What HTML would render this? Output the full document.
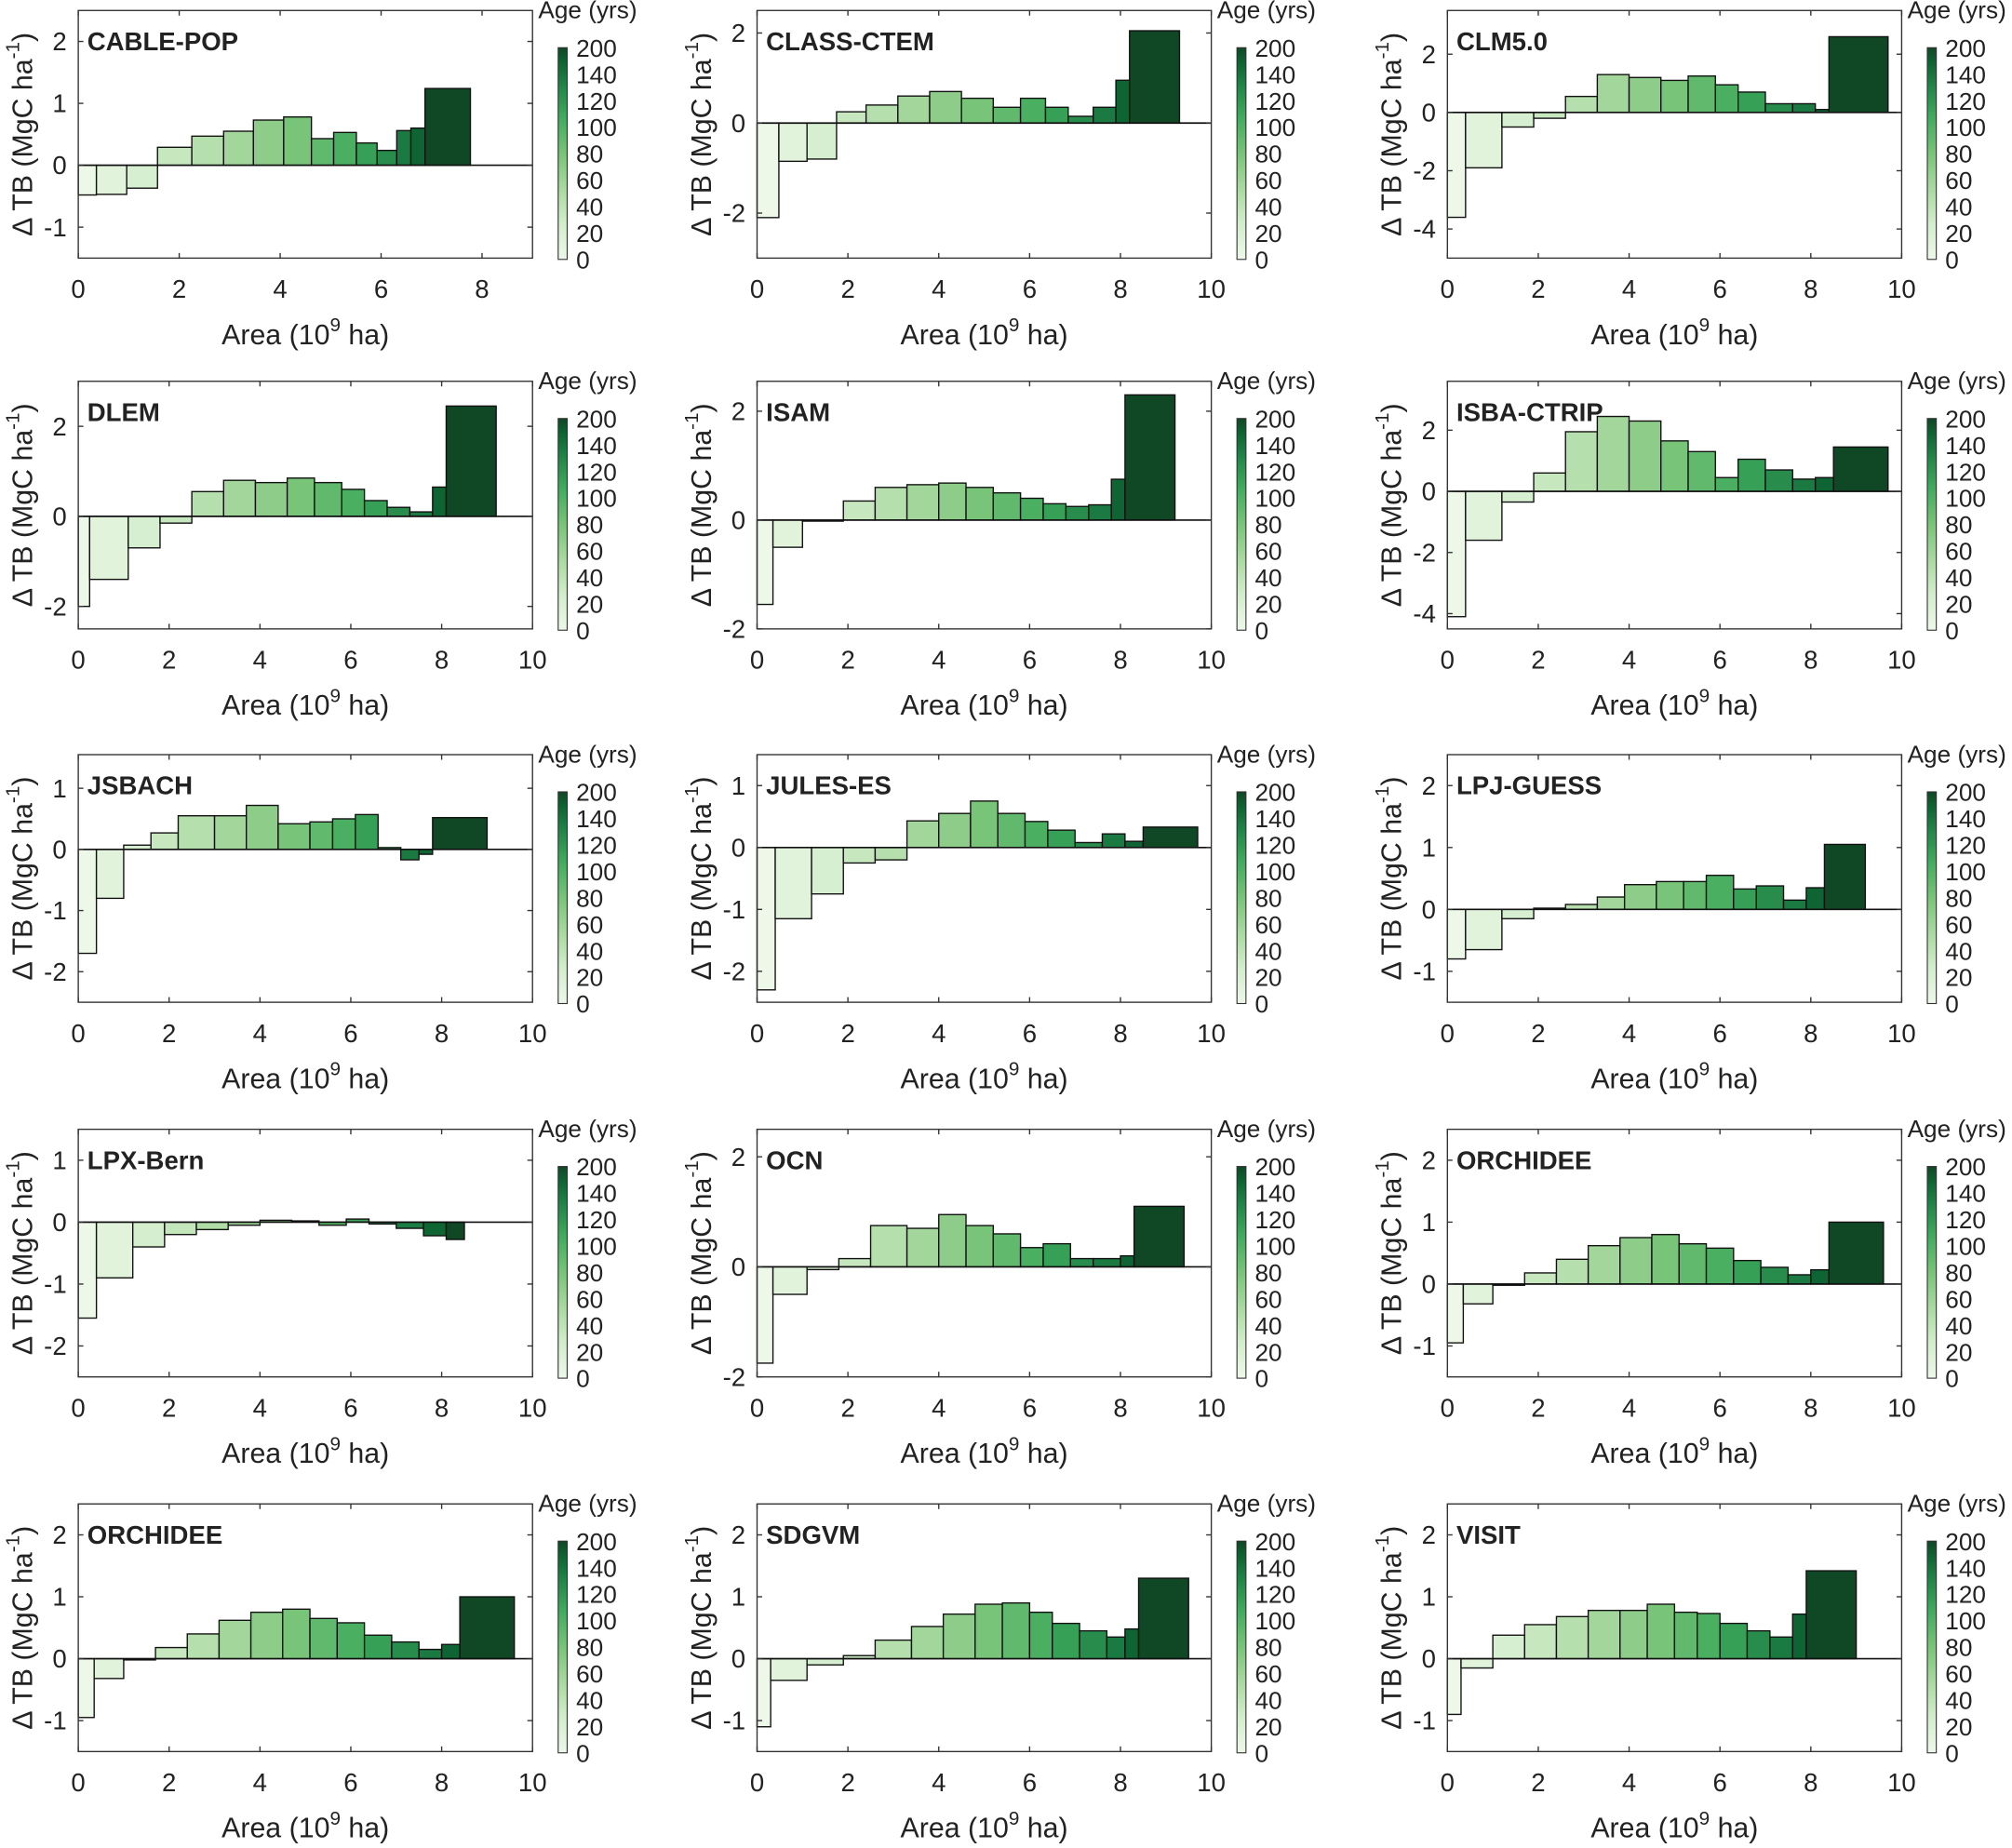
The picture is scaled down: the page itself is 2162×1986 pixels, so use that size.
<!DOCTYPE html>
<html><head><meta charset="utf-8"><style>
html,body{margin:0;padding:0;background:#fff}
svg{display:block}
text{font-family:"Liberation Sans",sans-serif;fill:#222}
</style></head><body>
<svg id="s" width="2162" height="1986" viewBox="0 0 1568 1440" xmlns="http://www.w3.org/2000/svg"></svg>
<script>
const P=[
["CABLE-POP",[-1.5,2.5],[-1,0,1,2],9,[[0,.36,-.48],[.36,.96,-.47],[.96,1.57,-.37],[1.57,2.25,.29],[2.25,2.88,.47],[2.88,3.47,.55],[3.47,4.07,.73],[4.07,4.62,.78],[4.62,5.06,.43],[5.06,5.51,.53],[5.51,5.92,.36],[5.92,6.31,.24],[6.31,6.59,.56],[6.59,6.87,.6],[6.87,7.77,1.24]]],
["CLASS-CTEM",[-3,2.5],[-2,0,2],10,[[0,.48,-2.1],[.48,1.1,-.85],[1.1,1.75,-.8],[1.75,2.4,.25],[2.4,3.1,.4],[3.1,3.8,.6],[3.8,4.5,.7],[4.5,5.2,.55],[5.2,5.8,.35],[5.8,6.35,.55],[6.35,6.85,.35],[6.85,7.4,.15],[7.4,7.9,.35],[7.9,8.2,.95],[8.2,9.3,2.05]]],
["CLM5.0",[-5,3.5],[-4,-2,0,2],10,[[0,.4,-3.6],[.4,1.2,-1.9],[1.2,1.9,-.5],[1.9,2.6,-.2],[2.6,3.3,.55],[3.3,4,1.3],[4,4.7,1.2],[4.7,5.3,1.1],[5.3,5.9,1.25],[5.9,6.4,.95],[6.4,7,.7],[7,7.6,.3],[7.6,8.1,.3],[8.1,8.4,.1],[8.4,9.7,2.6]]],
["DLEM",[-2.5,3],[-2,0,2],10,[[0,.25,-2],[.25,1.1,-1.4],[1.1,1.8,-.7],[1.8,2.5,-.15],[2.5,3.2,.55],[3.2,3.9,.8],[3.9,4.6,.75],[4.6,5.2,.85],[5.2,5.8,.75],[5.8,6.3,.6],[6.3,6.8,.35],[6.8,7.3,.2],[7.3,7.8,.1],[7.8,8.1,.65],[8.1,9.2,2.45]]],
["ISAM",[-2,2.55],[-2,0,2],10,[[0,.35,-1.55],[.35,1,-.5],[1,1.9,-.02],[1.9,2.6,.35],[2.6,3.3,.6],[3.3,4,.65],[4,4.6,.68],[4.6,5.2,.6],[5.2,5.8,.5],[5.8,6.3,.4],[6.3,6.8,.3],[6.8,7.3,.25],[7.3,7.8,.28],[7.8,8.1,.75],[8.1,9.2,2.3]]],
["ISBA-CTRIP",[-4.5,3.6],[-4,-2,0,2],10,[[0,.4,-4.1],[.4,1.2,-1.6],[1.2,1.9,-.35],[1.9,2.6,.6],[2.6,3.3,1.95],[3.3,4,2.45],[4,4.7,2.3],[4.7,5.3,1.65],[5.3,5.9,1.3],[5.9,6.4,.45],[6.4,7,1.05],[7,7.6,.7],[7.6,8.1,.4],[8.1,8.5,.45],[8.5,9.7,1.45]]],
["JSBACH",[-2.5,1.55],[-2,-1,0,1],10,[[0,.4,-1.7],[.4,1,-.8],[1,1.6,.07],[1.6,2.2,.27],[2.2,3,.55],[3,3.7,.55],[3.7,4.4,.72],[4.4,5.1,.42],[5.1,5.6,.45],[5.6,6.1,.5],[6.1,6.6,.57],[6.6,7.1,.03],[7.1,7.5,-.17],[7.5,7.8,-.08],[7.8,9,.52]]],
["JULES-ES",[-2.5,1.5],[-2,-1,0,1],10,[[0,.4,-2.3],[.4,1.2,-1.15],[1.2,1.9,-.75],[1.9,2.6,-.25],[2.6,3.3,-.2],[3.3,4,.43],[4,4.7,.55],[4.7,5.3,.75],[5.3,5.9,.55],[5.9,6.4,.42],[6.4,7,.28],[7,7.6,.08],[7.6,8.1,.22],[8.1,8.5,.1],[8.5,9.7,.33]]],
["LPJ-GUESS",[-1.5,2.5],[-1,0,1,2],10,[[0,.4,-.8],[.4,1.2,-.65],[1.2,1.9,-.15],[1.9,2.6,.02],[2.6,3.3,.08],[3.3,3.9,.2],[3.9,4.6,.4],[4.6,5.2,.45],[5.2,5.7,.45],[5.7,6.3,.55],[6.3,6.8,.33],[6.8,7.4,.38],[7.4,7.9,.15],[7.9,8.3,.35],[8.3,9.2,1.05]]],
["LPX-Bern",[-2.5,1.5],[-2,-1,0,1],10,[[0,.4,-1.55],[.4,1.2,-.9],[1.2,1.9,-.4],[1.9,2.6,-.2],[2.6,3.3,-.12],[3.3,4,-.05],[4,4.7,.03],[4.7,5.3,.02],[5.3,5.9,-.05],[5.9,6.4,.05],[6.4,7,-.03],[7,7.6,-.1],[7.6,8.1,-.22],[8.1,8.5,-.28]]],
["OCN",[-2,2.5],[-2,0,2],10,[[0,.35,-1.75],[.35,1.1,-.5],[1.1,1.8,-.05],[1.8,2.5,.15],[2.5,3.3,.75],[3.3,4,.7],[4,4.6,.95],[4.6,5.2,.75],[5.2,5.8,.6],[5.8,6.3,.35],[6.3,6.9,.42],[6.9,7.4,.15],[7.4,8,.15],[8,8.3,.2],[8.3,9.4,1.1]]],
["ORCHIDEE",[-1.5,2.5],[-1,0,1,2],10,null],
["ORCHIDEE",[-1.5,2.5],[-1,0,1,2],10,null],
["SDGVM",[-1.5,2.5],[-1,0,1,2],10,[[0,.3,-1.1],[.3,1.1,-.35],[1.1,1.9,-.1],[1.9,2.6,.05],[2.6,3.4,.3],[3.4,4.1,.52],[4.1,4.8,.72],[4.8,5.4,.88],[5.4,6,.9],[6,6.5,.75],[6.5,7.1,.57],[7.1,7.7,.45],[7.7,8.1,.35],[8.1,8.4,.48],[8.4,9.5,1.3]]],
["VISIT",[-1.5,2.5],[-1,0,1,2],10,[[0,.3,-.9],[.3,1,-.15],[1,1.7,.38],[1.7,2.4,.55],[2.4,3.1,.68],[3.1,3.8,.78],[3.8,4.4,.78],[4.4,5,.88],[5,5.5,.75],[5.5,6,.73],[6,6.6,.57],[6.6,7.1,.45],[7.1,7.6,.35],[7.6,7.9,.72],[7.9,9,1.42]]]
];
const orch=[[0,.35,-.95],[.35,1,-.32],[1,1.7,-.02],[1.7,2.4,.18],[2.4,3.1,.4],[3.1,3.8,.62],[3.8,4.5,.75],[4.5,5.1,.8],[5.1,5.7,.65],[5.7,6.3,.58],[6.3,6.9,.38],[6.9,7.5,.27],[7.5,8,.15],[8,8.4,.23],[8.4,9.6,1]];
P[11][4]=orch;P[12][4]=orch;
const stops=[[0,[237,248,233]],[.17,[210,237,203]],[.33,[170,218,160]],[.5,[120,196,120]],[.67,[65,171,93]],[.83,[30,130,70]],[.93,[14,100,50]],[1,[16,72,38]]];
function col(t){for(let i=1;i<stops.length;i++){if(t<=stops[i][0]){const a=stops[i-1],b=stops[i],f=(t-a[0])/(b[0]-a[0]);return 'rgb('+a[1].map((v,k)=>Math.round(v+(b[1][k]-v)*f)).join(',')+')';}}return 'rgb(16,72,38)';}
const XS=[61,590,1128],W=354,TS=[8,297,588,880,1172],H=193;
let h='<defs><linearGradient id="g" x1="0" y1="1" x2="0" y2="0">';
stops.forEach(s=>h+=`<stop offset="${s[0]}" stop-color="${col(s[0])}"/>`);
h+='</linearGradient></defs>';
P.forEach((p,i)=>{
 const x0=XS[i%3],T=TS[Math.floor(i/3)],B=T+H,[lo,hi]=p[1],xm=p[3];
 const X=v=>x0+v/xm*W,Y=v=>B-(v-lo)/(hi-lo)*H;
 const n=p[4].length;
 p[4].forEach((b,k)=>{const y1=Y(Math.max(b[2],0)),y2=Y(Math.min(b[2],0));
  h+=`<rect x="${X(b[0])}" y="${y1}" width="${X(b[1])-X(b[0])}" height="${y2-y1}" fill="${col(k/(n-1))}" stroke="#111" stroke-width="1"/>`;});
 h+=`<line x1="${x0}" x2="${x0+W}" y1="${Y(0)}" y2="${Y(0)}" stroke="#111" stroke-width="1.2"/>`;
 h+=`<rect x="${x0}" y="${T}" width="${W}" height="${H}" fill="none" stroke="#333" stroke-width="1"/>`;
 p[2].forEach(t=>{const y=Y(t);h+=`<line x1="${x0}" x2="${x0+4}" y1="${y}" y2="${y}" stroke="#333"/><line x1="${x0+W-4}" x2="${x0+W}" y1="${y}" y2="${y}" stroke="#333"/><text x="${x0-9}" y="${y+7}" font-size="20" text-anchor="end">${t}</text>`;});
 for(let t=0;t<=xm;t+=2){const x=X(t);h+=`<line x1="${x}" x2="${x}" y1="${B}" y2="${B-4}" stroke="#333"/><line x1="${x}" x2="${x}" y1="${T}" y2="${T+4}" stroke="#333"/><text x="${x}" y="${B+31}" font-size="20" text-anchor="middle">${t}</text>`;}
 h+=`<text x="${x0+W/2}" y="${B+67}" font-size="22" text-anchor="middle">Area (10<tspan dy="-10" font-size="15">9</tspan><tspan dy="10"> ha)</tspan></text>`;
 const cy=(T+B)/2;
 h+=`<text transform="translate(${x0-36},${cy}) rotate(-90)" font-size="22" text-anchor="middle">Δ TB (MgC ha<tspan dy="-10" font-size="15">-1</tspan><tspan dy="10">)</tspan></text>`;
 h+=`<text x="${x0+7}" y="${T+31}" font-size="20" font-weight="bold" fill="#111">${p[0]}</text>`;
 const cx=x0+W+20,ct=T+29,cb=B+1;
 h+=`<rect x="${cx}" y="${ct}" width="7" height="${cb-ct}" fill="url(#g)" stroke="#333" stroke-width="0.8"/>`;
 const labs=[200,140,120,100,80,60,40,20,0];
 labs.forEach((l,k)=>{const y=ct+(cb-ct)*k/(labs.length-1);h+=`<text x="${cx+14}" y="${y+7}" font-size="19">${l}</text>`;});
 h+=`<text x="${cx+23}" y="${T+6}" font-size="19" text-anchor="middle">Age (yrs)</text>`;
});
document.getElementById('s').innerHTML=h;
</script>
</body></html>
